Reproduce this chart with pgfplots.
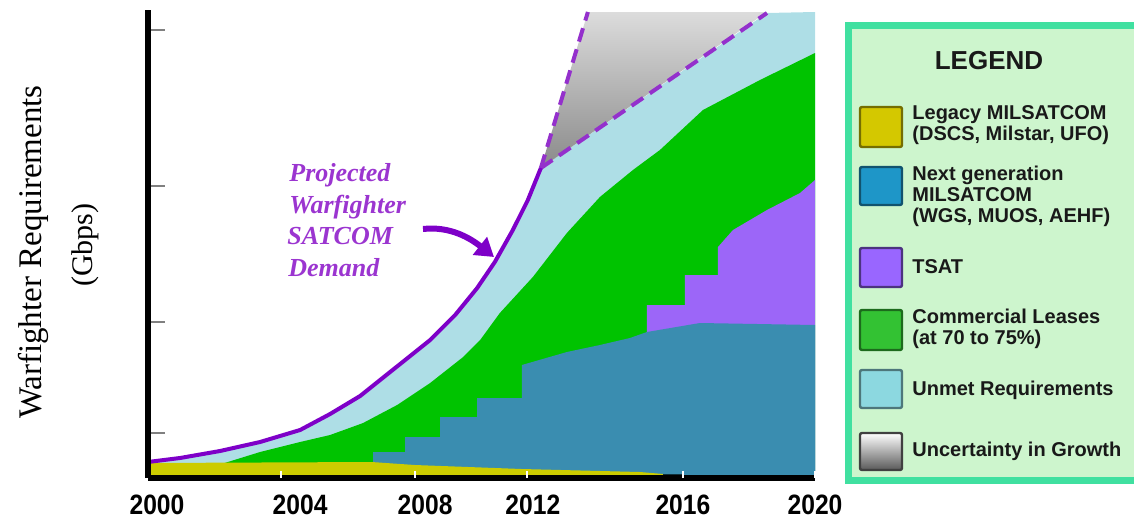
\documentclass[border=0pt]{standalone}
\usepackage{pgfplots}
\pgfplotsset{compat=1.18}
\usepackage{fontspec}
\setmainfont{Liberation Serif}
\newfontfamily\lsans{Liberation Sans}
\newfontfamily\ticksans[FakeStretch=0.88]{Liberation Sans}
\usetikzlibrary{arrows.meta}
\definecolor{unmet}{HTML}{AEDEE6}
\definecolor{commgreen}{HTML}{00C300}
\definecolor{nextgen}{HTML}{3A8DB0}
\definecolor{tsat}{HTML}{9C66F8}
\definecolor{legacy}{HTML}{CCCC00}
\definecolor{darkband}{HTML}{10303A}
\definecolor{demand}{HTML}{7E00C8}
\definecolor{dashcol}{HTML}{9430CC}
\definecolor{annot}{HTML}{9B35D0}
\definecolor{uncLight}{HTML}{DCDCDC}
\definecolor{uncDark}{HTML}{8A8A8A}
\definecolor{legfill}{HTML}{CDF5CD}
\definecolor{legborder}{HTML}{40E0A0}
\definecolor{swLegacy}{HTML}{D4C800}
\definecolor{swNext}{HTML}{1E96C8}
\definecolor{swTsat}{HTML}{9966FF}
\definecolor{swComm}{HTML}{33C233}
\definecolor{swUnmet}{HTML}{8CD8E0}
\begin{document}
\begin{tikzpicture}
\useasboundingbox (0,0) rectangle (567pt,-262.5pt);
\begin{axis}[at={(74pt,-239pt)}, anchor=south west, scale only axis,
  width=333.5pt, height=234pt,
  xmin=2000, xmax=2020, ymin=0, ymax=468,
  axis lines*=left, axis line style={black, line width=3pt, -},
  axis on top,
  xtick={2000.27,2004.56,2008.31,2011.54,2016.04,2020},
  xticklabels={2000,2004,2008,2012,2016,2020},
  xtick style={draw=none},
  xticklabel style={font=\ticksans\bfseries\fontsize{14}{14}\selectfont, yshift=-5pt},
  extra x ticks={2004,2008,2011.36,2016.04,2020},
  extra x tick labels={},
  extra x tick style={xtick style={draw=white, line width=1pt}, major tick length=3.5pt},
  ytick={45,156,292,448}, yticklabels={},
  ytick style={draw=gray, line width=1pt},
  major tick length=8.5pt, tick align=inside,
]
% unmet requirements (area under demand / growth bound)
\addplot[draw=none, fill=unmet] coordinates {
 (2000,16) (2000.96,20) (2002.16,27) (2003.36,36) (2004.56,48) (2005.46,64)
 (2006.36,82) (2006.96,98) (2007.71,118) (2008.46,138) (2009.21,163)
 (2009.87,190) (2010.40,216) (2010.94,248) (2011.39,278) (2011.78,310)
 (2018.56,465) (2020,466)} \closedcycle;
% commercial leases
\addplot[draw=none, fill=commgreen] coordinates {
 (2002.2,14) (2003.36,26) (2004.56,36) (2005.46,43) (2006.45,55) (2007.47,73)
 (2008.46,95) (2009.45,121) (2009.96,138) (2010.55,165) (2011.54,201)
 (2012.56,245) (2013.55,281) (2014.54,308) (2015.35,328) (2016.64,368)
 (2018.35,398) (2020,425)} \closedcycle;
% TSAT
\addplot[draw=none, fill=tsat] coordinates {
 (2014.96,173) (2016.10,173) (2016.10,203) (2017.09,203) (2017.09,231)
 (2017.54,248) (2018.56,268) (2019.55,285) (2020,298)} \closedcycle;
% next generation MILSATCOM
\addplot[draw=none, fill=nextgen] coordinates {
 (2006.75,26) (2007.71,26) (2007.71,41) (2008.76,41) (2008.76,61)
 (2009.87,61) (2009.87,80) (2011.21,80) (2011.21,113) (2012.56,126)
 (2013.55,133) (2014.45,140) (2014.96,146) (2016.55,155) (2020,153)} \closedcycle;
% legacy MILSATCOM
\addplot[draw=none, fill=legacy] coordinates {
 (2000,15) (2006.7,16) (2008,13) (2011.2,9) (2014.75,6) (2015.45,4)} \closedcycle;
\addplot[draw=none, fill=darkband] coordinates {(2015.45,4) (2016.05,4)} \closedcycle;
% uncertainty in growth
\addplot[draw=none, top color=uncLight, bottom color=uncDark] coordinates {
 (2011.78,310) (2013.19,466) (2018.56,466)} -- cycle;
\addplot[dashcol, line width=2pt, dash pattern=on 7pt off 4pt] coordinates {(2011.78,310) (2013.19,466)};
\addplot[dashcol, line width=2pt, dash pattern=on 7pt off 4pt] coordinates {(2011.78,310) (2018.56,465)};
% projected demand
\addplot[demand, line width=2pt] coordinates {
 (2000,16) (2000.96,20) (2002.16,27) (2003.36,36) (2004.56,48) (2005.46,64)
 (2006.36,82) (2006.96,98) (2007.71,118) (2008.46,138) (2009.21,163)
 (2009.87,190) (2010.40,216) (2010.94,248) (2011.39,278) (2011.78,310)};
\end{axis}
\begin{scope}[x=0.5pt, y=-0.5pt]
% axis title
\node[rotate=90, font=\fontsize{16.5}{16.5}\selectfont] at (33,252) {Warfighter Requirements};
\node[rotate=90, font=\fontsize{15}{15}\selectfont] at (85,245) {(Gbps)};
% annotation
\begin{scope}[annot, font=\bfseries\itshape\fontsize{13}{13}\selectfont]
\node[anchor=base west, inner sep=0] at (289,181) {Projected};
\node[anchor=base west, inner sep=0] at (289,213) {Warfighter};
\node[anchor=base west, inner sep=0] at (287,244) {SATCOM};
\node[anchor=base west, inner sep=0] at (288,276) {Demand};
\end{scope}
\draw[demand, line width=3pt, -{Triangle[length=9pt, width=11pt]}] (423,229) .. controls (450,226) and (470,238) .. (494,257);
% legend
\draw[legborder, fill=legfill, line width=3.5pt] (848.5,25) rectangle (1170,480);
\node[font=\lsans\bfseries\fontsize{13}{13}\selectfont, text=black!90] at (989,61) {LEGEND};
\begin{scope}[rounded corners=1pt, line width=1.2pt]
\draw[swLegacy!55!black, fill=swLegacy] (860,107) rectangle (902,147);
\draw[swNext!55!black, fill=swNext] (860,167) rectangle (902,205);
\draw[swTsat!50!black, fill=swTsat] (860,248) rectangle (902,287);
\draw[swComm!55!black, fill=swComm] (860,310) rectangle (902,350);
\draw[swUnmet!55!black, fill=swUnmet] (860,370) rectangle (902,408);
\draw[black!75, top color=white, bottom color=black!65] (860,433) rectangle (902,470);
\end{scope}
\begin{scope}[font=\lsans\bfseries\fontsize{10}{10.5}\selectfont, text=black!90]
\node[anchor=west, align=left, inner sep=0] at (912,125) {Legacy MILSATCOM\\(DSCS, Milstar, UFO)};
\node[anchor=west, align=left, inner sep=0] at (912,196) {Next generation\\MILSATCOM\\(WGS, MUOS, AEHF)};
\node[anchor=west, align=left, inner sep=0] at (912,267) {TSAT};
\node[anchor=west, align=left, inner sep=0] at (912,329) {Commercial Leases\\(at 70 to 75\%)};
\node[anchor=west, align=left, inner sep=0] at (912,390) {Unmet Requirements};
\node[anchor=west, align=left, inner sep=0] at (912,451) {Uncertainty in Growth};
\end{scope}
\end{scope}
\end{tikzpicture}
\end{document}
